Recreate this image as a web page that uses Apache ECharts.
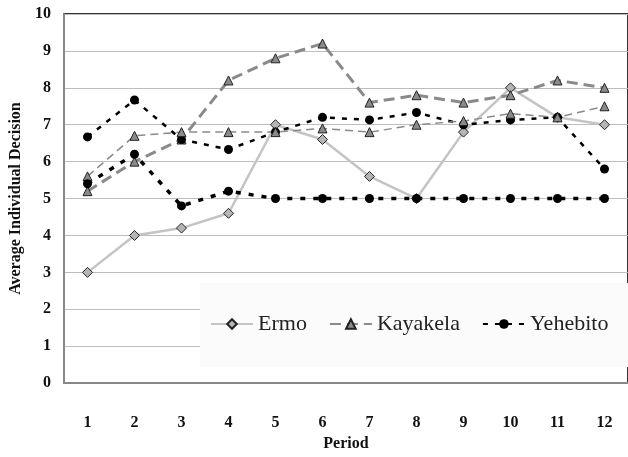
<!DOCTYPE html>
<html><head><meta charset="utf-8">
<script src="https://cdn.jsdelivr.net/npm/echarts@6/dist/echarts.min.js"></script>
<style>html,body{margin:0;padding:0;background:#fff}#c{width:628px;height:457px}</style>
</head><body><div id="c"></div>
<script>
var periods = ['1','2','3','4','5','6','7','8','9','10','11','12'];
var ermo = [3, 4, 4.2, 4.6, 7, 6.6, 5.6, 5, 6.8, 8, 7.2, 7];
var kayakelaA = [5.2, 6, 6.6, 8.2, 8.8, 9.2, 7.6, 7.8, 7.6, 7.8, 8.2, 8];
var kayakelaB = [5.6, 6.7, 6.8, 6.8, 6.8, 6.9, 6.8, 7, 7.1, 7.3, 7.2, 7.5];
var yehebitoA = [6.67, 7.67, 6.6, 6.33, 6.8, 7.2, 7.13, 7.33, 7, 7.13, 7.2, 5.8];
var yehebitoB = [5.4, 6.2, 4.8, 5.2, 5, 5, 5, 5, 5, 5, 5, 5];
var yTicks = [0,1,2,3,4,5,6,7,8,9,10];

var serif = 'Liberation Serif';
var chart = echarts.init(document.getElementById('c'));
chart.setOption({
  animation: false,
  backgroundColor: '#fff',
  grid: {left: 61, right: -1, top: 14, bottom: 73, show: true, borderColor: '#333', borderWidth: 2, backgroundColor: 'transparent'},
  legend: {
    left: 200, top: 283, width: 418,
    padding: [30, 20, 32, 10],
    backgroundColor: '#fbfbfb',
    itemWidth: 42, itemHeight: 12, itemGap: 22,
    textStyle: {fontFamily: serif, fontSize: 22, color: '#222'},
    data: ['Ermo', 'Kayakela', 'Yehebito']
  },
  xAxis: {
    type: 'category', data: periods, boundaryGap: true,
    name: 'Period', nameLocation: 'middle', nameGap: 49,
    nameTextStyle: {fontFamily: serif, fontSize: 16, fontWeight: 'bold', color: '#111'},
    axisLine: {lineStyle: {color: '#888', width: 2}},
    axisTick: {show: false},
    axisLabel: {margin: 32, fontFamily: serif, fontSize: 16, fontWeight: 'bold', color: '#111'}
  },
  yAxis: {
    type: 'value', min: 0, max: 10, interval: 1,
    name: 'Average Individual Decision', nameLocation: 'middle', nameGap: 40,
    nameTextStyle: {fontFamily: serif, fontSize: 16, fontWeight: 'bold', color: '#111'},
    axisLine: {show: true, lineStyle: {color: '#888', width: 2}},
    axisTick: {show: false},
    axisLabel: {margin: 13, fontFamily: serif, fontSize: 16, fontWeight: 'bold', color: '#111',
      formatter: function(v){ return yTicks.indexOf(v) >= 0 ? String(v) : ''; }},
    splitLine: {lineStyle: {color: '#bdbdbd', width: 1}}
  },
  series: [
    {name: 'Ermo', type: 'line', data: ermo, symbol: 'diamond', symbolSize: 10,
      lineStyle: {color: '#c4c4c4', width: 2.5},
      itemStyle: {color: '#b5b5b5', borderColor: '#222', borderWidth: 1}},
    {name: 'Kayakela', type: 'line', data: kayakelaA, symbol: 'triangle', symbolSize: 9,
      lineStyle: {color: '#8a8a8a', width: 3, type: [11, 6]},
      itemStyle: {color: '#8a8a8a', borderColor: '#222', borderWidth: 1}},
    {name: 'Yehebito', type: 'line', data: yehebitoA, symbol: 'circle', symbolSize: 9,
      lineStyle: {color: '#000', width: 2.5, type: [5, 7]},
      itemStyle: {color: '#000'}},
    {name: 'Kayakela', type: 'line', data: kayakelaB, symbol: 'triangle', symbolSize: 9,
      lineStyle: {color: '#8a8a8a', width: 1.5, type: [8, 5]},
      itemStyle: {color: '#8a8a8a', borderColor: '#222', borderWidth: 1}},
    {name: 'Yehebito', type: 'line', data: yehebitoB, symbol: 'circle', symbolSize: 9,
      lineStyle: {color: '#000', width: 3.5, type: [5, 8]},
      itemStyle: {color: '#000'}}
  ]
});
</script></body></html>
